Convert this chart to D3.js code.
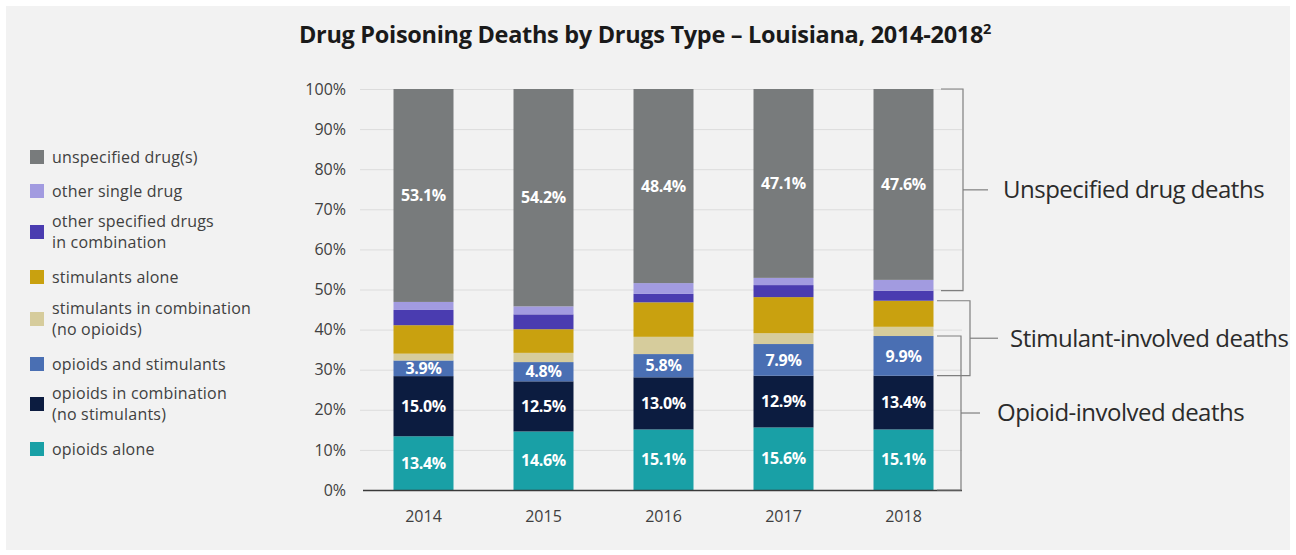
<!DOCTYPE html>
<html>
<head>
<meta charset="utf-8">
<script src="https://cdn.jsdelivr.net/npm/d3@7"></script>
<style>
  html, body { margin: 0; padding: 0; background: #fff; }
  svg { display: block; font-family: "Open Sans", "Noto Sans", sans-serif; }
</style>
</head>
<body>
<div class="container"></div>
<script>
const WIDTH = 1296;
const HEIGHT = 555;

// data (percent of deaths)
const years = ['2014', '2015', '2016', '2017', '2018'];
const categories = [
  'opioids alone',
  'opioids in combination (no stimulants)',
  'opioids and stimulants',
  'stimulants in combination (no opioids)',
  'stimulants alone',
  'other specified drugs in combination',
  'other single drug',
  'unspecified drug(s)'
];
const opioidsAlone = [13.4, 14.6, 15.1, 15.6, 15.1];
const opioidsCombination = [15.0, 12.5, 13.0, 12.9, 13.4];
const opioidsAndStimulants = [3.9, 4.8, 5.8, 7.9, 9.9];
const stimulantsCombination = [1.7, 2.3, 4.3, 2.7, 2.3];
const stimulantsAlone = [7.1, 5.9, 8.6, 9.0, 6.5];
const otherCombination = [3.8, 3.7, 2.1, 3.0, 2.5];
const otherSingle = [2.0, 2.0, 2.7, 1.8, 2.7];
const unspecified = [53.1, 54.2, 48.4, 47.1, 47.6];
const labelled = [true, true, true, false, false, false, false, true];
const yTicks = [0, 10, 20, 30, 40, 50, 60, 70, 80, 90, 100];

const series = [opioidsAlone, opioidsCombination, opioidsAndStimulants, stimulantsCombination,
  stimulantsAlone, otherCombination, otherSingle, unspecified];
const colors = ['#19a0a6', '#0c1c40', '#4a6fb3', '#d6cc9c', '#c9a10f', '#4a3cb0', '#a29be0', '#787b7c'];

// legend order, top to bottom, with wrapped lines
const legendItems = [
  { key: 7, lines: ['unspecified drug(s)'] },
  { key: 6, lines: ['other single drug'] },
  { key: 5, lines: ['other specified drugs', 'in combination'] },
  { key: 4, lines: ['stimulants alone'] },
  { key: 3, lines: ['stimulants in combination', '(no opioids)'] },
  { key: 2, lines: ['opioids and stimulants'] },
  { key: 1, lines: ['opioids in combination', '(no stimulants)'] },
  { key: 0, lines: ['opioids alone'] }
];
const legendY = [157, 191, 232, 277, 319, 364, 404, 449];

// groups shown by the braces on the right (based on the last year)
const groups = [
  { name: 'Unspecified drug deaths', from: 6, to: 7, x: 963, tickIn: 22, tickOut: 25, textGap: 15 },
  { name: 'Stimulant-involved deaths', from: 2, to: 4, x: 970, tickIn: 33, tickOut: 28, textGap: 12 },
  { name: 'Opioid-involved deaths', from: 0, to: 2, x: 961, tickIn: 24, tickOut: 19, textGap: 17 }
];

var rows = years.map(function (y, i) {
  var row = { year: y };
  series.forEach(function (s, k) { row[k] = s[i]; });
  return row;
});

var stack = d3.stack().keys(d3.range(categories.length));
var stacked = stack(rows);

var x = d3.scaleBand().domain(years).range([363.5, 963.5]).paddingInner(0.5).paddingOuter(0.25);
var y = d3.scaleLinear().domain([0, 100]).range([490, 89]);

var svg = d3.select('.container').append('svg')
  .attr('width', WIDTH)
  .attr('height', HEIGHT);

svg.append('rect')
  .attr('x', 6).attr('y', 6)
  .attr('width', 1284).attr('height', 544)
  .attr('fill', '#f2f2f2');

// title
var title = svg.append('text')
  .attr('x', 645).attr('y', 43)
  .attr('text-anchor', 'middle')
  .attr('font-size', 23.5)
  .attr('font-weight', 700)
  .attr('letter-spacing', -0.3)
  .attr('fill', '#1a1a1a');
title.append('tspan').text('Drug Poisoning Deaths by Drugs Type \u2013 Louisiana, 2014-2018');
title.append('tspan').attr('dy', -9).attr('font-size', 14.5).text('2');

// gridlines
svg.append('g')
  .selectAll('line')
  .data(yTicks.filter(function (d) { return d > 0; }))
  .enter().append('line')
  .attr('x1', 360).attr('x2', 962)
  .attr('y1', function (d) { return y(d) + 0.5; })
  .attr('y2', function (d) { return y(d) + 0.5; })
  .attr('stroke', '#dcdcdc');

// y axis labels
var yAxis = svg.append('g')
  .attr('transform', 'translate(346,0)')
  .call(d3.axisLeft(y).tickValues(yTicks).tickSize(0).tickPadding(0)
    .tickFormat(function (d) { return d + '%'; }));
yAxis.select('.domain').remove();
yAxis.selectAll('text')
  .attr('font-family', '"Open Sans", "Noto Sans", sans-serif')
  .attr('font-size', 16)
  .attr('fill', '#404040');

// bars
var layer = svg.append('g').selectAll('g')
  .data(stacked)
  .enter().append('g')
  .attr('fill', function (d) { return colors[d.key]; });

layer.selectAll('rect')
  .data(function (d) { return d; })
  .enter().append('rect')
  .attr('x', function (d) { return x(d.data.year); })
  .attr('width', x.bandwidth())
  .attr('y', function (d) { return y(d[1]); })
  .attr('height', function (d) { return y(d[0]) - y(d[1]); });

// value labels
stacked.forEach(function (s) {
  if (!labelled[s.key]) return;
  svg.append('g').selectAll('text')
    .data(s)
    .enter().append('text')
    .attr('x', function (d) { return x(d.data.year) + x.bandwidth() / 2; })
    .attr('y', function (d) { return (y(d[0]) + y(d[1])) / 2; })
    .attr('dy', '0.36em')
    .attr('text-anchor', 'middle')
    .attr('font-size', 16)
    .attr('font-weight', 700)
    .attr('letter-spacing', -0.3)
    .attr('fill', '#ffffff')
    .text(function (d) { return (d[1] - d[0]).toFixed(1) + '%'; });
});

// x axis
var xAxis = svg.append('g')
  .attr('transform', 'translate(0,490)')
  .call(d3.axisBottom(x).tickSize(0).tickPadding(21));
xAxis.select('.domain')
  .attr('d', 'M363,0.5H962')
  .attr('stroke', '#3a3a3a')
  .attr('stroke-width', 1.5);
xAxis.selectAll('text')
  .attr('font-family', '"Open Sans", "Noto Sans", sans-serif')
  .attr('font-size', 16)
  .attr('fill', '#404040');

// legend
var legend = svg.append('g').selectAll('g')
  .data(legendItems)
  .enter().append('g')
  .attr('transform', function (d, i) { return 'translate(30,' + legendY[i] + ')'; });

legend.append('rect')
  .attr('x', 0).attr('y', -7)
  .attr('width', 14).attr('height', 14)
  .attr('fill', function (d) { return colors[d.key]; });

legend.append('text')
  .attr('x', 22)
  .attr('font-size', 16)
  .attr('letter-spacing', 0.2)
  .attr('fill', '#404040')
  .each(function (d) {
    var t = d3.select(this);
    var n = d.lines.length;
    d.lines.forEach(function (line, j) {
      t.append('tspan')
        .attr('x', 22)
        .attr('y', (j - (n - 1) / 2) * 21)
        .attr('dy', '0.35em')
        .text(line);
    });
  });

// braces
var last = stacked.map(function (s) { return s[s.length - 1]; });
groups.forEach(function (g) {
  var top = y(last[g.to][1]);
  var bottom = y(last[g.from][0]);
  var mid = (top + bottom) / 2;
  var b = svg.append('g')
    .attr('fill', 'none')
    .attr('stroke', '#7f7f7f')
    .attr('stroke-width', 1.2);
  b.append('path')
    .attr('d', 'M' + (g.x - g.tickIn) + ',' + top + 'H' + g.x + 'V' + bottom + 'H' + (g.x - g.tickIn));
  b.append('path')
    .attr('d', 'M' + g.x + ',' + mid + 'H' + (g.x + g.tickOut));
  svg.append('text')
    .attr('x', g.x + g.tickOut + g.textGap)
    .attr('y', mid)
    .attr('dy', '0.35em')
    .attr('font-size', 24)
    .attr('letter-spacing', -0.5)
    .attr('fill', '#2b2b2b')
    .text(g.name);
});
</script>
</body>
</html>
